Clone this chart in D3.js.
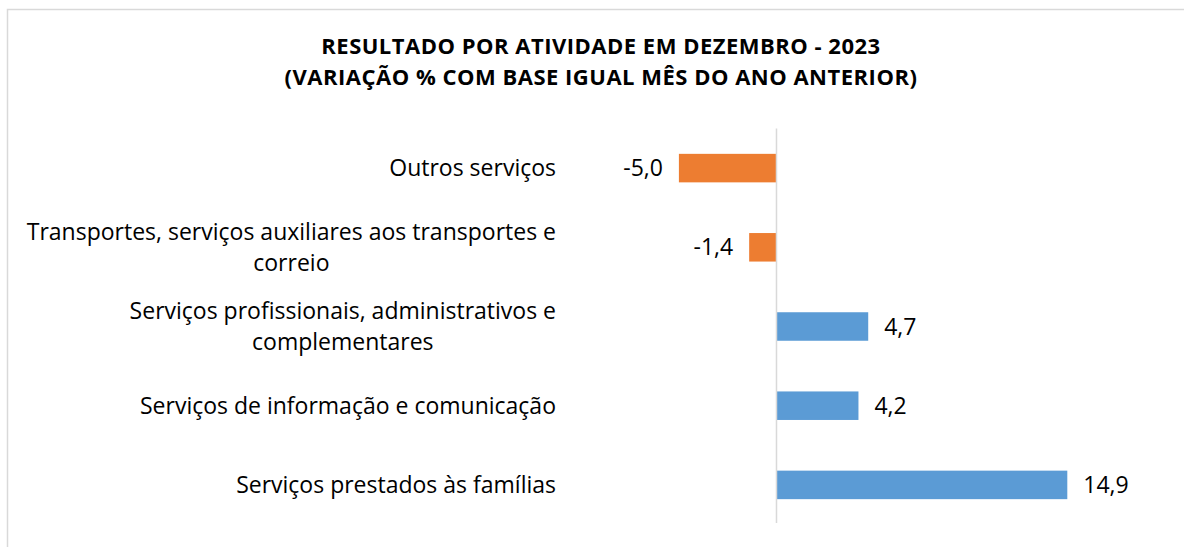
<!DOCTYPE html>
<html>
<head>
<meta charset="utf-8">
<script src="https://cdn.jsdelivr.net/npm/d3@7"></script>
<style>
  body { margin: 0; background: #fff; }
  svg { display: block; font-family: "Open Sans", sans-serif; }
</style>
</head>
<body>
<div id="chart"></div>
<script>
// Chart data (top to bottom)
const categories = [
  ['Outros serviços'],
  ['Transportes, serviços auxiliares aos transportes e', 'correio'],
  ['Serviços profissionais, administrativos e', 'complementares'],
  ['Serviços de informação e comunicação'],
  ['Serviços prestados às famílias']
];
const values = [-5.0, -1.4, 4.7, 4.2, 14.9];
const titleLines = [
  'RESULTADO POR ATIVIDADE EM DEZEMBRO - 2023',
  '(VARIAÇÃO % COM BASE IGUAL MÊS DO ANO ANTERIOR)'
];

const width = 1184, height = 547;
const fmt = v => v.toFixed(1).replace('.', ',');

const svg = d3.select('#chart').append('svg')
  .attr('width', width)
  .attr('height', height);

// Chart frame (only left and top edges are visible in the crop)
svg.append('rect')
  .attr('x', 7.5).attr('y', 9.5)
  .attr('width', width + 20).attr('height', height + 20)
  .attr('fill', '#fff')
  .attr('stroke', '#d9d9d9')
  .attr('stroke-width', 1.5);

// Title
svg.append('g')
  .selectAll('text')
  .data(titleLines)
  .join('text')
  .attr('x', 601)
  .attr('y', (d, i) => 53.5 + i * 31.5)
  .attr('text-anchor', 'middle')
  .attr('font-weight', 'bold')
  .attr('font-size', 22)
  .attr('letter-spacing', 0.5)
  .attr('fill', '#000')
  .text(d => d);

// Scales
const x = d3.scaleLinear()
  .domain([-5, 14.9])
  .range([678.9, 1067.3]);

const y = d3.scaleBand()
  .domain(d3.range(categories.length))
  .range([128.5, 524.5])
  .paddingInner(0.64)
  .paddingOuter(0.32);

// Bars
svg.append('g')
  .selectAll('rect')
  .data(values)
  .join('rect')
  .attr('x', d => x(Math.min(0, d)))
  .attr('y', (d, i) => y(i))
  .attr('width', d => Math.abs(x(d) - x(0)))
  .attr('height', y.bandwidth())
  .attr('fill', d => d < 0 ? '#ED7D31' : '#5B9BD5');

// Vertical axis line at zero
svg.append('line')
  .attr('x1', x(0)).attr('x2', x(0))
  .attr('y1', 128.5).attr('y2', 523)
  .attr('stroke', '#d9d9d9')
  .attr('stroke-width', 1.5);

// Value labels
svg.append('g')
  .selectAll('text')
  .data(values)
  .join('text')
  .attr('x', d => d < 0 ? x(d) - 16 : x(d) + 16)
  .attr('y', (d, i) => y(i) + y.bandwidth() / 2)
  .attr('dy', '0.35em')
  .attr('text-anchor', d => d < 0 ? 'end' : 'start')
  .attr('font-size', 23)
  .attr('fill', '#000')
  .text(fmt);

// Category labels: block right-aligned, lines centered within block
const labelRight = 556;
const lineH = 31;
const labels = svg.append('g')
  .selectAll('g')
  .data(categories)
  .join('g');

labels.each(function(lines, i) {
  const g = d3.select(this);
  const cy = y(i) + y.bandwidth() / 2;
  const top = cy - (lines.length - 1) * lineH / 2;
  const texts = g.selectAll('text')
    .data(lines)
    .join('text')
    .attr('y', (d, j) => top + j * lineH)
    .attr('dy', '0.35em')
    .attr('font-size', 23)
    .attr('fill', '#000')
    .attr('text-anchor', 'middle')
    .text(d => d);
  const w = d3.max(texts.nodes(), n => n.getComputedTextLength());
  texts.attr('x', labelRight - w / 2);
});
</script>
</body>
</html>
